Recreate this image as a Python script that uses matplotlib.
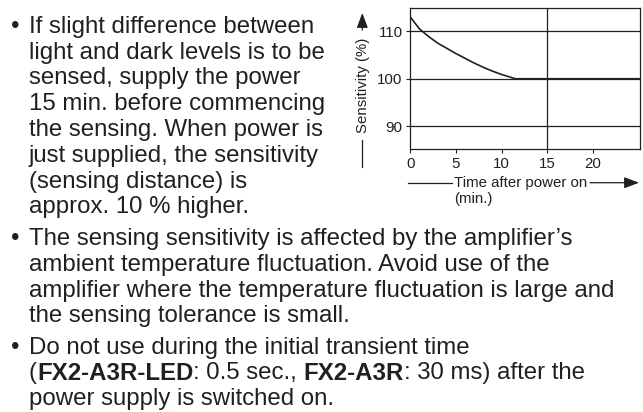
import matplotlib.pyplot as plt

# Arial-like font
plt.rcParams['font.family'] = ['Liberation Sans', 'DejaVu Sans']

ink = '#231f20'

# curve
time_min = [0, 1, 2, 3, 4, 5, 6, 7, 8, 9, 10, 11, 11.5, 25.2]
sensitivity = [113, 110.5, 108.9, 107.5, 106.4, 105.3, 104.3, 103.3, 102.4, 101.6, 100.9, 100.3, 100, 100]
x_ticks = [0, 5, 10, 15, 20]
y_ticks = [90, 100, 110]
x_grid = [15]

para1 = ['If slight difference between',
         'light and dark levels is to be',
         'sensed, supply the power',
         '15 min. before commencing',
         'the sensing. When power is',
         'just supplied, the sensitivity',
         '(sensing distance) is',
         'approx. 10 % higher.']
para2 = ['The sensing sensitivity is affected by the amplifier\u2019s',
         'ambient temperature fluctuation. Avoid use of the',
         'amplifier where the temperature fluctuation is large and',
         'the sensing tolerance is small.']
para3_first = 'Do not use during the initial transient time'
para3_mixed = [('(', False), ('FX2-A3R-LED', True), (': 0.5 sec.,', False), (' ', None),
               ('FX2-A3R', True), (': 30 ms) after the', False)]
para3_last = 'power supply is switched on.'

fs = 17.3
step = 25.8

fig = plt.figure(figsize=(6.43, 4.12), dpi=100)
bg = fig.add_axes([0, 0, 1, 1])
bg.set_xlim(0, 643)
bg.set_ylim(412, 0)
bg.axis('off')

x_txt = 29
x_bul = 11

# first paragraph
y0 = 32.7
bg.text(x_bul, y0, '\u2022', fontsize=fs, color=ink, va='baseline')
for i, line in enumerate(para1):
    bg.text(x_txt, y0 + i * step, line, fontsize=fs, color=ink, va='baseline')

# second paragraph
y0 = 245
bg.text(x_bul, y0, '\u2022', fontsize=fs, color=ink, va='baseline')
for i, line in enumerate(para2):
    bg.text(x_txt, y0 + i * step, line, fontsize=fs, color=ink, va='baseline')

# third paragraph, one line with bold parts
y0 = 353.7
bg.text(x_bul, y0, '\u2022', fontsize=fs, color=ink, va='baseline')
bg.text(x_txt, y0, para3_first, fontsize=fs, color=ink, va='baseline')
renderer = fig.canvas.get_renderer()
t1 = bg.text(0, -50, 'aa', fontsize=fs)
t2 = bg.text(0, -50, 'a a', fontsize=fs)
space_w = t2.get_window_extent(renderer).width - t1.get_window_extent(renderer).width
t1.remove()
t2.remove()
x = x_txt
for piece, bold in para3_mixed:
    if bold is None:
        x += space_w
        continue
    t = bg.text(x, y0 + step, piece, fontsize=fs, color=ink, va='baseline',
                fontweight='bold' if bold else 'normal')
    x += t.get_window_extent(renderer).width
bg.text(x_txt, y0 + 2 * step, para3_last, fontsize=fs, color=ink, va='baseline')

# chart
ax = fig.add_axes([410.3 / 643, 1 - 149 / 412, 229.7 / 643, 141 / 412])
ax.plot(time_min, sensitivity, color=ink, lw=1.2)
for v in y_ticks:
    ax.axhline(v, color=ink, lw=0.9)
for v in x_grid:
    ax.axvline(v, color=ink, lw=0.9)
ax.set_xlim(0, 25.15)
ax.set_ylim(85.2, 114.9)
ax.set_xticks(x_ticks)
ax.set_yticks(y_ticks)
ax.tick_params(direction='out', length=3, width=0.8, colors=ink, labelsize=10.8, pad=2.5)
for s in ax.spines.values():
    s.set_color(ink)
    s.set_linewidth(0.9)

# axis labels with arrows
arrow = dict(arrowstyle='-|>,head_length=0.45,head_width=0.17', color=ink, lw=0.9,
             mutation_scale=20, shrinkA=0, shrinkB=0)
bg.text(362.5, 85, 'Sensitivity (%)', rotation=90, ha='center', va='center',
        fontsize=10.8, color=ink)
bg.plot([362.3, 362.3], [167, 140], color=ink, lw=0.9)
bg.annotate('', xy=(362.3, 13), xytext=(362.3, 30), arrowprops=arrow)

bg.plot([408, 452], [182.7, 182.7], color=ink, lw=0.9)
bg.text(454, 186.5, 'Time after power on', va='baseline', fontsize=10.8, color=ink)
bg.annotate('', xy=(639, 182.7), xytext=(590, 182.7), arrowprops=arrow)
bg.text(454, 203, '(min.)', va='baseline', fontsize=10.8, color=ink)

fig.savefig('out.png', dpi=100)
